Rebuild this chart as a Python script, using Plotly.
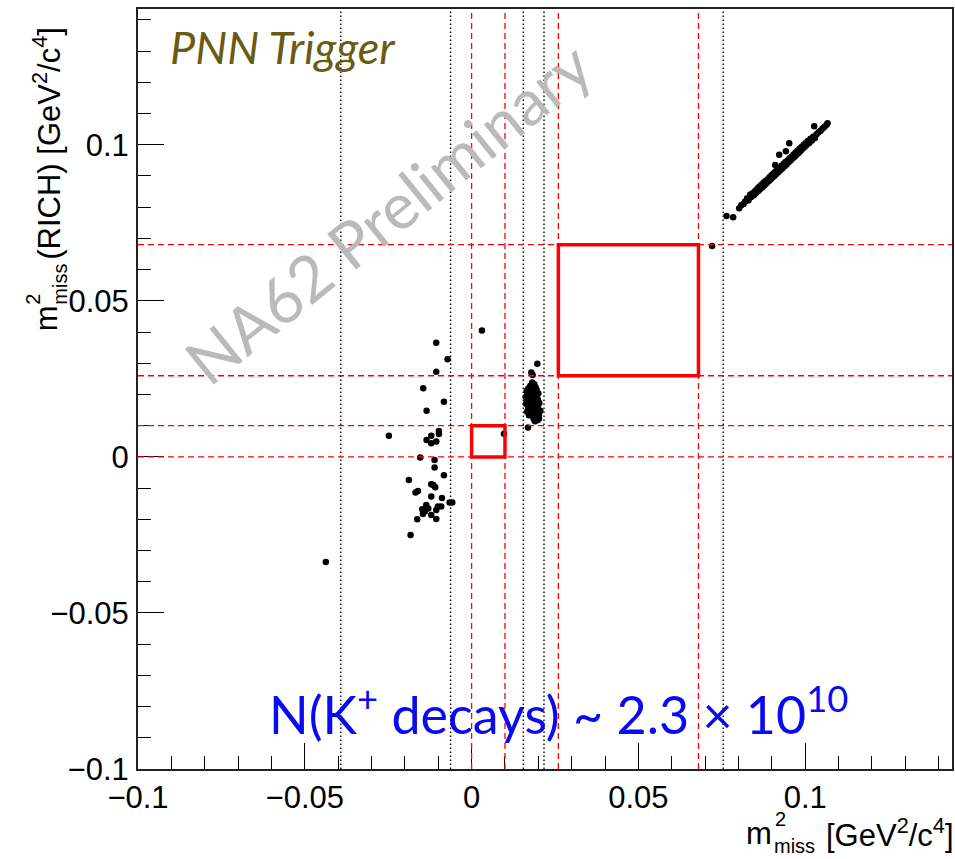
import plotly.graph_objects as go

# --- axis setup -------------------------------------------------------------
x_range = [-0.1, 0.144]
y_range = [-0.1, 0.1435]
tick_vals = [-0.1, -0.05, 0.0, 0.05, 0.1]
tick_text = ["\u22120.1", "\u22120.05", "0", "0.05", "0.1"]

# --- selection boundaries ---------------------------------------------------
red_cuts = [0.0, 0.01, 0.026, 0.068]            # dashed red lines (both axes)
dotted_cuts = [-0.0392, -0.0063, 0.0155, 0.0217, 0.0754]   # dotted black (x only)
region1 = [0.0, 0.01, 0.0, 0.01]                # x0, x1, y0, y1
region2 = [0.026, 0.068, 0.026, 0.068]

# --- events -----------------------------------------------------------------
# K -> pi pi0 like cluster (negative side)
left_x = [-0.0106, -0.0072, -0.0106, -0.0145, -0.0083, -0.0135, -0.0248, -0.0098,
          -0.0098, -0.0121, -0.0135, -0.0121, -0.0106, -0.0154, -0.0111, -0.0111,
          -0.0083, -0.0188, -0.0121, -0.0109, -0.0161, -0.0168, -0.0121, -0.0089,
          -0.0058, -0.0066, -0.0136, -0.0148, -0.0101, -0.0091, -0.0106, -0.0146,
          -0.0163, -0.0121, -0.0106, -0.0183, -0.0130, -0.0140, -0.0115]
left_y = [0.0366, 0.0313, 0.0273, 0.0220, 0.0177, 0.0148, 0.0068, 0.0083,
          0.0073, 0.0068, 0.0054, 0.0044, 0.0049, -0.0002, -0.0010, -0.0034,
          -0.0059, -0.0074, -0.0088, -0.0097, -0.0109, -0.0114, -0.0127, -0.0132,
          -0.0146, -0.0146, -0.0154, -0.0168, -0.0159, -0.0159, -0.0170, -0.0183,
          -0.0200, -0.0186, -0.0199, -0.0250, -0.0165, -0.0175, -0.0090]

# cluster near m2 ~ 0.018
mid_x = [0.0197, 0.0179, 0.0183, 0.0169,
         0.0182, 0.0188, 0.0176, 0.0185, 0.0192, 0.0170, 0.0180, 0.0195, 0.0165,
         0.0175, 0.0188, 0.0200, 0.0168, 0.0181, 0.0193, 0.0162, 0.0174, 0.0186,
         0.0198, 0.0167, 0.0179, 0.0191, 0.0203, 0.0163, 0.0175, 0.0187, 0.0199,
         0.0170, 0.0182, 0.0194, 0.0206, 0.0166, 0.0178, 0.0190, 0.0202, 0.0172,
         0.0184, 0.0196, 0.0186, 0.0198, 0.0190, 0.0202]
mid_y = [0.0298, 0.0270, 0.0262, 0.0094,
         0.0238, 0.0233, 0.0228, 0.0225, 0.0222, 0.0219, 0.0216, 0.0214, 0.0211,
         0.0208, 0.0205, 0.0203, 0.0200, 0.0198, 0.0195, 0.0192, 0.0190, 0.0187,
         0.0185, 0.0181, 0.0178, 0.0176, 0.0173, 0.0170, 0.0167, 0.0164, 0.0161,
         0.0157, 0.0154, 0.0151, 0.0148, 0.0145, 0.0142, 0.0139, 0.0136, 0.0133,
         0.0130, 0.0127, 0.0122, 0.0118, 0.0114, 0.0122]

# diagonal band at large m2
band_x = [0.0764, 0.0784,
          0.0802, 0.0808, 0.0815, 0.0820, 0.0826, 0.0830, 0.0835, 0.0838, 0.0842,
          0.0846, 0.0850, 0.0853, 0.0857, 0.0860, 0.0863, 0.0866, 0.0869, 0.0872,
          0.0875, 0.0878, 0.0881, 0.0884, 0.0887, 0.0890, 0.0893, 0.0896, 0.0899,
          0.0902, 0.0905, 0.0908, 0.0911, 0.0914, 0.0917, 0.0920, 0.0923, 0.0926,
          0.0929, 0.0932, 0.0935, 0.0938, 0.0941, 0.0944, 0.0947, 0.0950, 0.0953,
          0.0956, 0.0959, 0.0962, 0.0965, 0.0968, 0.0971, 0.0974, 0.0977, 0.0980,
          0.0983, 0.0986, 0.0989, 0.0992, 0.0995, 0.0998, 0.1001, 0.1004, 0.1008,
          0.1012, 0.1016, 0.1020, 0.1024, 0.1029, 0.1034, 0.1040, 0.1046, 0.1052,
          0.1058, 0.1064, 0.1067,
          0.0952, 0.0922, 0.1027, 0.0942, 0.0910]
band_y = [0.0772, 0.0768,
          0.0797, 0.0806, 0.0810, 0.0818, 0.0829, 0.0822, 0.0840, 0.0833, 0.0845,
          0.0838, 0.0852, 0.0846, 0.0860, 0.0853, 0.0866, 0.0859, 0.0872, 0.0864,
          0.0878, 0.0870, 0.0884, 0.0877, 0.0889, 0.0883, 0.0896, 0.0889, 0.0902,
          0.0895, 0.0908, 0.0901, 0.0914, 0.0907, 0.0921, 0.0913, 0.0926, 0.0919,
          0.0933, 0.0925, 0.0938, 0.0931, 0.0945, 0.0937, 0.0950, 0.0944, 0.0957,
          0.0950, 0.0962, 0.0956, 0.0969, 0.0962, 0.0975, 0.0968, 0.0981, 0.0974,
          0.0987, 0.0980, 0.0993, 0.0987, 0.0999, 0.0993, 0.1005, 0.0999, 0.1012,
          0.1006, 0.1019, 0.1014, 0.1026, 0.1022, 0.1034, 0.1040, 0.1045, 0.1052,
          0.1058, 0.1064, 0.1069,
          0.1005, 0.0968, 0.1059, 0.0979, 0.0935]

# isolated events
iso_x = [-0.0437, 0.0031, 0.0097, 0.0721]
iso_y = [-0.0337, 0.0405, 0.0074, 0.0676]

all_x = left_x + mid_x + band_x + iso_x
all_y = left_y + mid_y + band_y + iso_y

# --- figure geometry (pixels) ----------------------------------------------
W, H = 955, 859
ML, MR, MT, MB = 138, 1, 9, 90
PW, PH = W - ML - MR, H - MT - MB


def px(xp):
    return (xp - ML) / PW


def py(yp):
    return (H - MB - yp) / PH


fig = go.Figure()
fig.add_trace(go.Scatter(
    x=all_x, y=all_y, mode="markers",
    marker=dict(symbol="circle", size=6.5, color="black", line=dict(width=0)),
    hoverinfo="skip", showlegend=False,
))

shapes = []
for xv in dotted_cuts:
    shapes.append(dict(type="line", xref="x", yref="paper", x0=xv, x1=xv, y0=0, y1=1,
                       line=dict(color="black", width=1.4, dash="1.5px,2.5px")))
for v in red_cuts:
    shapes.append(dict(type="line", xref="x", yref="paper", x0=v, x1=v, y0=0, y1=1,
                       line=dict(color="#ff0000", width=1.3, dash="6px,4px")))
    shapes.append(dict(type="line", xref="paper", yref="y", x0=0, x1=1, y0=v, y1=v,
                       line=dict(color="#ff0000", width=1.3, dash="6px,4px")))
for r in (region1, region2):
    shapes.append(dict(type="rect", xref="x", yref="y", x0=r[0], x1=r[1], y0=r[2], y1=r[3],
                       line=dict(color="#ff0000", width=3.5), fillcolor="rgba(0,0,0,0)"))

FAM = "Liberation Sans, Arial, sans-serif"
axis_font = dict(family=FAM, size=31, color="black")
small_font = dict(family=FAM, size=20, color="black")

ann = []
# x-axis title: m^2_miss [GeV^2/c^4]
ann.append(dict(text="[GeV<sup>2</sup>/c<sup>4</sup>]", xref="paper", yref="paper",
                x=px(958), y=py(833), xanchor="right", yanchor="middle",
                showarrow=False, font=axis_font))
ann.append(dict(text="m", xref="paper", yref="paper", x=px(776), y=py(833),
                xanchor="right", yanchor="middle", showarrow=False, font=axis_font))
ann.append(dict(text="2", xref="paper", yref="paper", x=px(775), y=py(819),
                xanchor="left", yanchor="middle", showarrow=False, font=small_font))
ann.append(dict(text="miss", xref="paper", yref="paper", x=px(774), y=py(846),
                xanchor="left", yanchor="middle", showarrow=False, font=small_font))

# y-axis title: m^2_miss(RICH) [GeV^2/c^4]
ann.append(dict(text="(RICH) [GeV<sup>2</sup>/c<sup>4</sup>]", xref="paper", yref="paper",
                x=px(46), y=py(262), xanchor="center", yanchor="bottom", textangle=-90,
                showarrow=False, font=axis_font))
ann.append(dict(text="m", xref="paper", yref="paper", x=px(46), y=py(333),
                xanchor="center", yanchor="bottom", textangle=-90,
                showarrow=False, font=axis_font))
ann.append(dict(text="2", xref="paper", yref="paper", x=px(32), y=py(307),
                xanchor="center", yanchor="bottom", textangle=-90,
                showarrow=False, font=small_font))
ann.append(dict(text="miss", xref="paper", yref="paper", x=px(59), y=py(307),
                xanchor="center", yanchor="bottom", textangle=-90,
                showarrow=False, font=small_font))

# labels inside the frame
ann.append(dict(text="PNN Trigger", xref="paper", yref="paper", x=px(168), y=py(47),
                xanchor="left", yanchor="middle", showarrow=False,
                font=dict(family="Lato, Open Sans, sans-serif", size=45, color="#6b5a12",
                          style="italic")))
ann.append(dict(text="NA62 Preliminary", xref="paper", yref="paper", x=px(388), y=py(212),
                xanchor="center", yanchor="middle", textangle=-39, showarrow=False,
                font=dict(family="Lato, Open Sans, sans-serif", size=64, color="#bababa")))
ann.append(dict(text="N(K<sup>+</sup> decays) ~ 2.3 \u00d7 10<sup>10</sup>", xref="paper",
                yref="paper", x=px(560), y=py(710), xanchor="center", yanchor="middle",
                showarrow=False,
                font=dict(family="Lato, Open Sans, sans-serif", size=52, color="#0a0af0")))

fig.update_layout(
    width=W, height=H,
    margin=dict(l=ML, r=MR, t=MT, b=MB, pad=0),
    paper_bgcolor="white", plot_bgcolor="white",
    shapes=shapes, annotations=ann, showlegend=False,
    xaxis=dict(range=x_range, tickvals=tick_vals, ticktext=tick_text,
               ticks="inside", ticklen=26, tickwidth=1, tickcolor="black",
               minor=dict(dtick=0.01, tick0=0, ticks="inside", ticklen=13,
                          tickwidth=1, tickcolor="black", showgrid=False),
               showgrid=False, zeroline=False, showline=True, mirror=True,
               linecolor="#222222", linewidth=2, tickfont=axis_font,
               ticklabelstandoff=0),
    yaxis=dict(range=y_range, tickvals=tick_vals, ticktext=tick_text,
               ticks="inside", ticklen=26, tickwidth=1, tickcolor="black",
               minor=dict(dtick=0.01, tick0=0, ticks="inside", ticklen=13,
                          tickwidth=1, tickcolor="black", showgrid=False),
               showgrid=False, zeroline=False, showline=True, mirror=True,
               linecolor="#222222", linewidth=2, tickfont=axis_font,
               ticklabelstandoff=1),
)

fig.write_html("out.html")
